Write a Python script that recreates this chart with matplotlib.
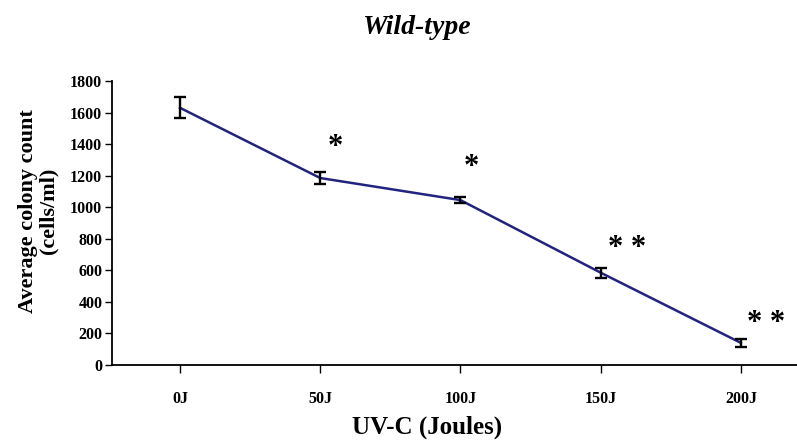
import numpy as np
import matplotlib
matplotlib.use("Agg")
import matplotlib.pyplot as plt

# UV-C dose response of the wild-type strain
doses = ["0J", "50J", "100J", "150J", "200J"]
mean_count = [1630, 1185, 1045, 585, 140]
err_count = [67, 38, 19, 32, 25]

# significance markers (label, x position in dose index units, y value)
sig_labels = ["*", "*", "* *", "* *"]
sig_x = [1.11, 2.08, 3.19, 4.18]
sig_y = [1380, 1252, 740, 262]

yticks = [0, 200, 400, 600, 800, 1000, 1200, 1400, 1600, 1800]

SERIF = ["Liberation Serif", "DejaVu Serif"]
LINE_COLOR = "#23237f"

fig = plt.figure(figsize=(7.97, 4.44), dpi=100)
ax = fig.add_axes([0.1405, 0.178, 0.8595, 0.6396])

x = np.arange(len(doses))
ax.plot(x, mean_count, color=LINE_COLOR, lw=1.8, zorder=2,
        solid_joinstyle="round")
ax.errorbar(x, mean_count, yerr=err_count, fmt="none", ecolor="black",
            elinewidth=1.7, capsize=4.5, capthick=1.7, zorder=3)

for lab, sx, sy in zip(sig_labels, sig_x, sig_y):
    ax.text(sx, sy, lab, ha="center", va="center", fontsize=22,
            fontweight="bold", family=SERIF)

ax.set_xlim(-0.485, 4.40)
ax.set_ylim(0, 1800)
ax.set_yticks(yticks)
ax.set_xticks(x)
ax.set_xticklabels(doses)

for s in ["top", "right"]:
    ax.spines[s].set_visible(False)
for s in ["left", "bottom"]:
    ax.spines[s].set_linewidth(1.3)
    ax.spines[s].set_color("black")

ax.tick_params(axis="y", direction="out", length=5, width=1.0, pad=2)
ax.tick_params(axis="x", direction="out", length=6, width=1.0, pad=13)
for lab in ax.get_yticklabels() + ax.get_xticklabels():
    lab.set_fontfamily(SERIF)
    lab.set_fontweight("bold")
    lab.set_fontsize(11.5)

fig.text(0.522, 0.939, "Wild-type", ha="center", va="center", fontsize=20,
         fontweight="bold", fontstyle="italic", family=SERIF)
fig.text(0.536, 0.038, "UV-C (Joules)", ha="center", va="center",
         fontsize=18, fontweight="bold", family=SERIF)
fig.text(0.048, 0.525, "Average colony count\n(cells/ml)", ha="center",
         va="center", rotation=90, fontsize=16, fontweight="bold",
         family=SERIF, linespacing=1.0)

fig.savefig("out.png", dpi=100, facecolor="white")
